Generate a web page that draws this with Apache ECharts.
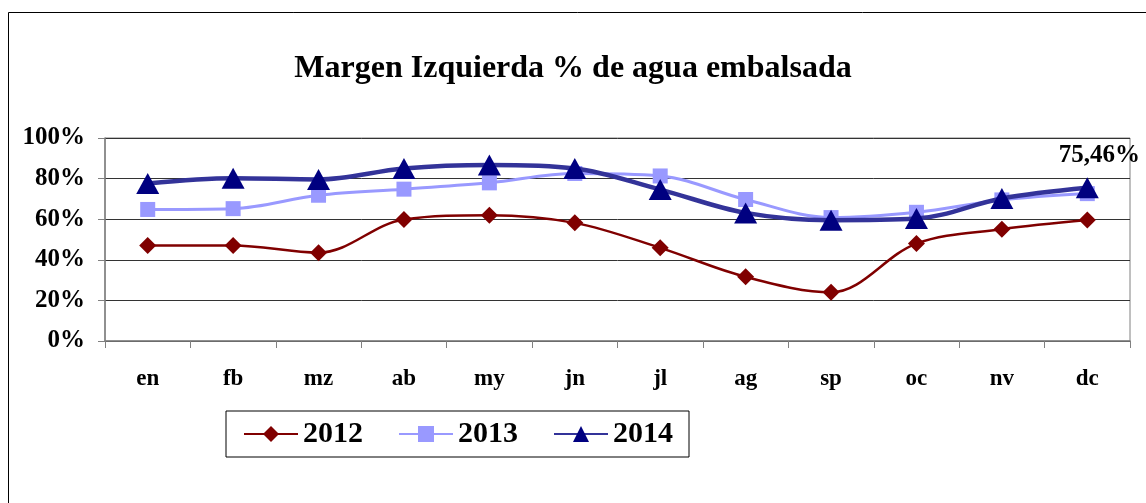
<!DOCTYPE html>
<html>
<head>
<meta charset="utf-8">
<script src="https://cdn.jsdelivr.net/npm/echarts@6/dist/echarts.min.js"></script>
<style>
  html, body { margin: 0; padding: 0; background: #fff; }
  #chart { width: 1146px; height: 503px; }
</style>
</head>
<body>
<div id="chart"></div>
<script>
// datos (% de agua embalsada)
var meses = ["en", "fb", "mz", "ab", "my", "jn", "jl", "ag", "sp", "oc", "nv", "dc"];
var v2012 = [47.1, 47.1, 43.5, 59.9, 62.0, 58.2, 45.9, 31.6, 24.0, 48.0, 55.1, 59.6];
var v2013 = [64.8, 65.2, 71.8, 74.8, 77.9, 82.5, 81.3, 69.7, 60.8, 63.4, 69.5, 72.6];
var v2014 = [77.6, 80.2, 79.6, 85.0, 86.7, 85.0, 74.6, 63.1, 59.5, 60.3, 70.2, 75.46];
var ticksY = [0, 20, 40, 60, 80, 100];

var fuente = "Liberation Serif";
var myChart = echarts.init(document.getElementById("chart"));

// solo el ultimo punto de 2014 lleva etiqueta
var datos2014 = v2014.map(function (v, i) {
  if (i === v2014.length - 1) {
    return {
      value: v,
      label: {
        show: true,
        position: "top",
        offset: [12, -4],
        fontFamily: fuente,
        fontWeight: "bold",
        fontSize: 25,
        color: "#000",
        formatter: function (p) {
          return p.value.toFixed(2).replace(".", ",") + "%";
        }
      }
    };
  }
  return v;
});

myChart.setOption({
  animation: false,
  backgroundColor: "#fff",
  title: {
    text: "Margen Izquierda % de agua embalsada",
    left: "center",
    top: 48,
    textStyle: {
      fontFamily: fuente,
      fontWeight: "bold",
      fontSize: 32,
      color: "#000"
    }
  },
  graphic: [
    {
      type: "rect",
      shape: { x: 8.5, y: 12.5, width: 1200, height: 600 },
      style: { fill: null, stroke: "#000", lineWidth: 1 },
      silent: true
    }
  ],
  legend: {
    left: 226,
    top: 411,
    padding: [8, 16, 8, 17],
    itemGap: 35,
    itemWidth: 54,
    itemHeight: 20,
    itemTextGap: 6,
    borderColor: "#000",
    borderWidth: 1,
    data: ["2012", "2013", "2014"],
    textStyle: {
      fontFamily: fuente,
      fontWeight: "bold",
      fontSize: 30,
      color: "#000"
    }
  },
  grid: {
    left: 105,
    right: 16,
    top: 138,
    bottom: 162,
    show: true,
    borderColor: "#808080",
    borderWidth: 1
  },
  xAxis: {
    type: "category",
    data: meses,
    boundaryGap: true,
    axisLine: { lineStyle: { color: "#808080", width: 1.5 } },
    axisTick: { show: true, length: 7, inside: false, lineStyle: { color: "#808080" } },
    axisLabel: {
      margin: 27,
      fontFamily: fuente,
      fontWeight: "bold",
      fontSize: 23,
      color: "#000"
    },
    splitLine: { show: false }
  },
  yAxis: {
    type: "value",
    min: ticksY[0],
    max: ticksY[ticksY.length - 1],
    interval: 20,
    axisLine: { show: true, lineStyle: { color: "#808080", width: 1.5 } },
    axisTick: { show: true, length: 7, lineStyle: { color: "#808080" } },
    axisLabel: {
      margin: 20,
      fontFamily: fuente,
      fontWeight: "bold",
      fontSize: 25,
      color: "#000",
      formatter: "{value}%"
    },
    splitLine: { show: true, lineStyle: { color: "#333", width: 1 } }
  },
  series: [
    {
      name: "2012",
      type: "line",
      data: v2012,
      smooth: 0.35,
      symbol: "diamond",
      symbolSize: 17,
      z: 2,
      lineStyle: { color: "#800000", width: 2.5 },
      itemStyle: { color: "#800000" }
    },
    {
      name: "2013",
      type: "line",
      data: v2013,
      smooth: 0.35,
      symbol: "rect",
      symbolSize: 15,
      z: 3,
      lineStyle: { color: "#9999FF", width: 3 },
      itemStyle: { color: "#9999FF" }
    },
    {
      name: "2014",
      type: "line",
      data: datos2014,
      smooth: 0.35,
      symbol: "triangle",
      symbolSize: [23, 21],
      z: 4,
      lineStyle: { color: "#333399", width: 4.5 },
      itemStyle: { color: "#000080" }
    }
  ]
});
</script>
</body>
</html>
